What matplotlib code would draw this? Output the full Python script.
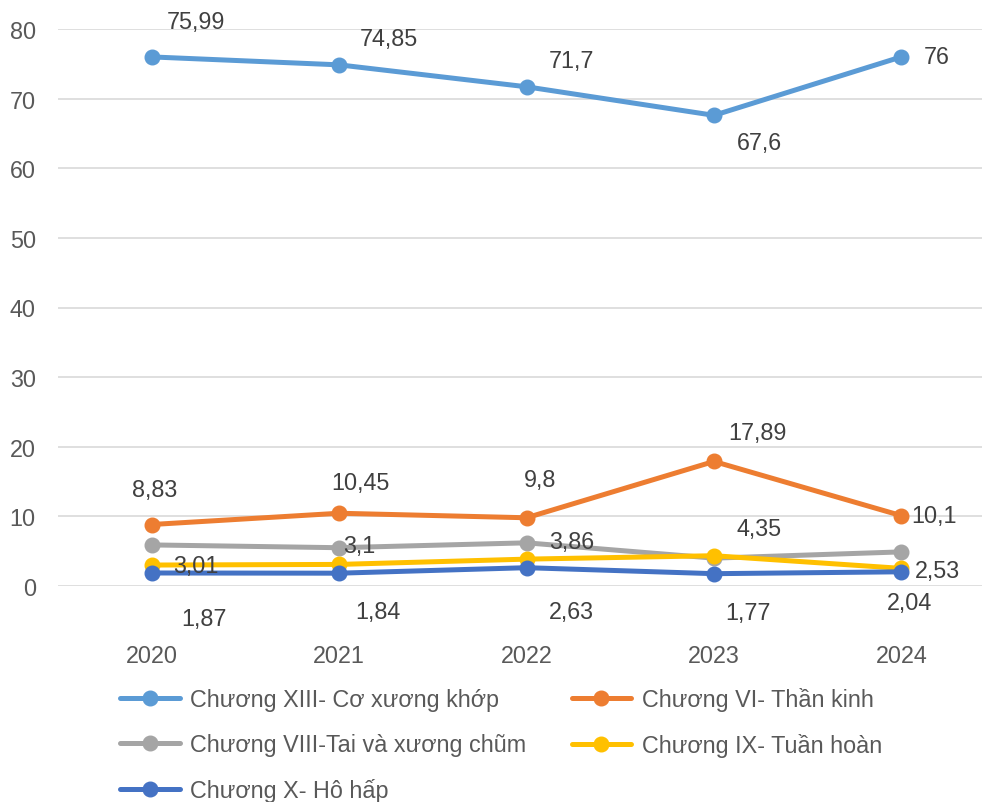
import matplotlib.pyplot as plt

plt.rcParams['font.family'] = ['Liberation Sans', 'DejaVu Sans']

years = ["2020", "2021", "2022", "2023", "2024"]

names = ["Chương XIII- Cơ xương khớp", "Chương VI- Thần kinh",
         "Chương VIII-Tai và xương chũm", "Chương IX- Tuần hoàn",
         "Chương X- Hô hấp"]

xiii = [75.99, 74.85, 71.7, 67.6, 76]
vi = [8.83, 10.45, 9.8, 17.89, 10.1]
viii = [5.9, 5.5, 6.2, 4.0, 4.9]
ix = [3.01, 3.1, 3.86, 4.35, 2.53]
x_ = [1.87, 1.84, 2.63, 1.77, 2.04]

# data label texts (None = no label)
lab_xiii = ["75,99", "74,85", "71,7", "67,6", "76"]
lab_vi = ["8,83", "10,45", "9,8", "17,89", "10,1"]
lab_viii = [None] * 5
lab_ix = ["3,01", "3,1", "3,86", "4,35", "2,53"]
lab_x = ["1,87", "1,84", "2,63", "1,77", "2,04"]

colors = ["#5B9BD5", "#ED7D31", "#A5A5A5", "#FFC000", "#4472C4"]

# label offsets in pixels (dx, dy upward)
off_xiii = [(44, 35), (50, 26), (45, 26), (45, -27), (35, 0)]
off_vi = [(3, 35), (21, 31), (14, 38), (43, 29), (33, 0)]
off_viii = [(0, 0)] * 5
off_ix = [(44, 0), (20, 19), (45, 18), (45, 27), (36, -2)]
off_x = [(52, -46), (39, -38), (45, -44), (34, -39), (8, -31)]

series = [xiii, vi, viii, ix, x_]
labels = [lab_xiii, lab_vi, lab_viii, lab_ix, lab_x]
offsets = [off_xiii, off_vi, off_viii, off_ix, off_x]

fig = plt.figure(figsize=(9.82, 8.03), dpi=100)
ax = fig.add_axes([58 / 982, 1 - 587 / 803, 924 / 982, 557 / 803])

xs = list(range(len(years)))
handles = []
for vals, labs, offs, col, name in zip(series, labels, offsets, colors, names):
    h, = ax.plot(xs, vals, color=col, lw=3.6, marker='o', ms=10.5,
                 label=name, solid_capstyle='round', clip_on=False)
    handles.append(h)
    for xi, v, t, o in zip(xs, vals, labs, offs):
        if t is None:
            continue
        ax.annotate(t, (xi, v), xytext=o, textcoords='offset pixels',
                    ha='center', va='center', fontsize=16.8, color='#404040')

ax.set_ylim(0, 80)
ax.set_xlim(-0.5, 4.43)
ax.set_yticks(range(0, 81, 10))
ax.set_xticks(xs)
ax.set_xticklabels(years)
ax.grid(axis='y', color='#D9D9D9', lw=1.2)
ax.set_axisbelow(True)
for s in ax.spines.values():
    s.set_visible(False)
ax.tick_params(length=0, labelsize=16.8, colors='#595959')
ax.tick_params(axis='x', pad=42)
ax.tick_params(axis='y', pad=16)

order = [0, 2, 4, 1, 3]
leg = fig.legend([handles[i] for i in order], [names[i] for i in order],
                 ncol=2, loc='upper left', bbox_to_anchor=(120 / 982, 1 - 688 / 803),
                 frameon=False, fontsize=16.8, handlelength=2.55, handletextpad=0.45,
                 columnspacing=1.95, labelspacing=0.95, borderpad=0, borderaxespad=0)
for t in leg.get_texts():
    t.set_color('#595959')

fig.savefig("out.png", dpi=100)
